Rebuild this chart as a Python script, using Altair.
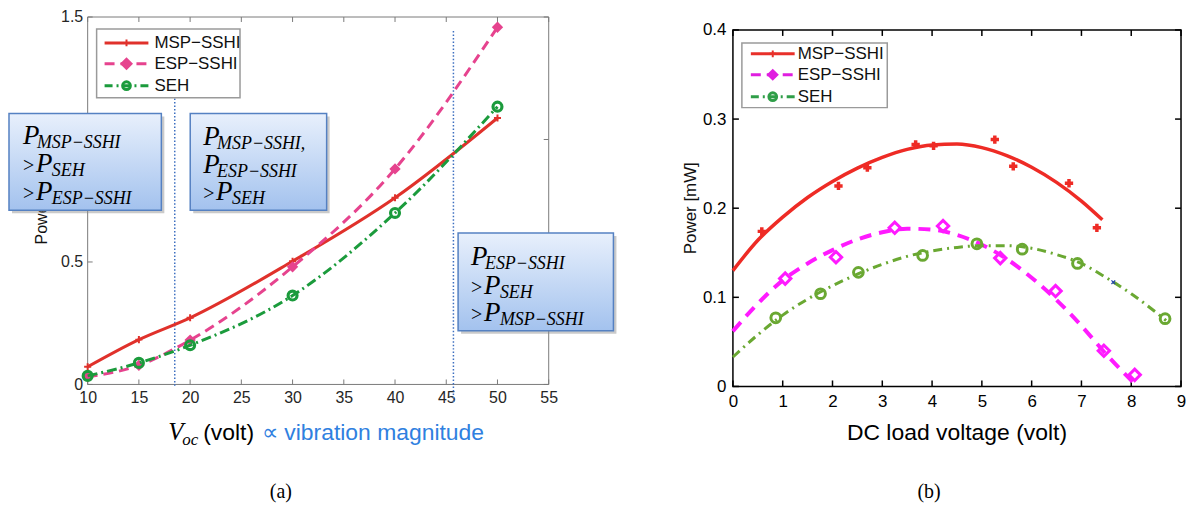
import altair as alt
import pandas as pd

# ---------------- panel (a) data ----------------
voc = [10, 15, 20, 30, 40, 50]
msp_a = [0.072, 0.183, 0.272, 0.503, 0.762, 1.088]
esp_a = [0.031, 0.078, 0.181, 0.480, 0.880, 1.458]
seh_a = [0.035, 0.088, 0.160, 0.363, 0.700, 1.134]
region_x = [18.5, 45.7]
region_top = [1.167, 1.443]
region_bottom = [-0.012, -0.073]
xticks_a = [10, 15, 20, 25, 30, 35, 40, 45, 50, 55]
yticks_a = [0, 0.5, 1.0, 1.5]
ylabels_a = [0, 0.5, 1.5]   # the "1" label is hidden behind the first box in the original

# ---------------- panel (b) data ----------------
msp_bx = [0.58, 2.12, 2.70, 3.67, 4.03, 5.26, 5.63, 6.75, 7.31]
msp_by = [0.174, 0.225, 0.2455, 0.2716, 0.270, 0.277, 0.247, 0.228, 0.178]
esp_bx = [1.05, 2.07, 3.25, 4.22, 5.37, 6.48, 7.45, 8.07]
esp_by = [0.121, 0.145, 0.178, 0.180, 0.144, 0.107, 0.040, 0.013]
seh_bx = [0.86, 1.76, 2.52, 3.81, 4.90, 5.81, 6.92, 8.68]
seh_by = [0.077, 0.104, 0.128, 0.147, 0.160, 0.154, 0.138, 0.076]
fit_msp_x = [0, 0.5, 1, 1.5, 2, 2.5, 3, 3.5, 4, 4.5, 5, 5.5, 6, 6.5, 7, 7.42]
fit_msp_y = [0.130, 0.164, 0.190, 0.212, 0.230, 0.245, 0.257, 0.266, 0.271, 0.272,
             0.268, 0.259, 0.246, 0.229, 0.208, 0.187]
fit_esp_x = [0, 0.5, 1, 1.5, 2, 2.5, 3, 3.5, 4, 4.5, 5, 5.5, 6, 6.5, 7, 7.5, 8, 8.13]
fit_esp_y = [0.062, 0.093, 0.119, 0.138, 0.153, 0.165, 0.173, 0.177, 0.176, 0.170,
             0.159, 0.143, 0.122, 0.097, 0.068, 0.036, 0.007, 0.0]
fit_seh_x = [0, 0.5, 1, 1.5, 2, 2.5, 3, 3.5, 4, 4.5, 5, 5.5, 6, 6.5, 7, 7.5, 8, 8.5, 8.7]
fit_seh_y = [0.033, 0.058, 0.080, 0.098, 0.113, 0.126, 0.137, 0.146, 0.152, 0.156,
             0.158, 0.158, 0.155, 0.148, 0.138, 0.122, 0.104, 0.083, 0.074]
extra_bx = [7.64]
extra_by = [0.117]
xticks_b = [0, 1, 2, 3, 4, 5, 6, 7, 8, 9]
yticks_b = [0, 0.1, 0.2, 0.3, 0.4]

series_names = ["MSP\u2212SSHI", "ESP\u2212SSHI", "SEH"]

# ---------------- styling / geometry ----------------
SANS = "Liberation Sans"
SERIF = "Liberation Serif"
RED_A, PINK_A, GREEN_A = "#e0312b", "#e6438e", "#1b9b3c"
RED_B, MAG_B, GREEN_B = "#ee2b25", "#ff1aff", "#6aa832"
PLUS = "M-1,0L1,0M0,-1L0,1"
XMARK = "M-1,-1L1,1M-1,1L1,-1"

A_W, A_H = 463, 369
B_W, B_H, B_TOP = 450, 371, 13


def ax(px):
    return 10 + (px - 87) * 45 / A_W


def ay(py):
    return (16 + A_H - py) * 1.5 / A_H


def bx(px):
    return (px - 735) * 9 / B_W


def by(py):
    return (16 + B_H - py) * 0.4 / (B_H - B_TOP)


def mk_axis(vals, size, color, pad):
    return alt.Axis(values=vals, format="~g", labelFont=SANS, labelFontSize=size, labelColor=color,
                    ticks=False, tickSize=0, domain=False, grid=False, labelPadding=pad,
                    labelFlush=False, labelOverlap=False, title=None)


PA = dict(xs=alt.Scale(domain=[10, 55], nice=False, zero=False),
          ys=alt.Scale(domain=[0, 1.5], nice=False, zero=False),
          axx=mk_axis(xticks_a, 16, "#262626", 5), axy=mk_axis(ylabels_a, 16, "#262626", 5))
PB = dict(xs=alt.Scale(domain=[0, 9], nice=False, zero=False),
          ys=alt.Scale(domain=[0, 0.4], nice=False, zero=False, range=[B_H, B_TOP]),
          axx=mk_axis(xticks_b, 17, "#000000", 7), axy=mk_axis(yticks_b, 17, "#000000", 7))


def X(P, f="x"):
    return alt.X(f"{f}:Q", scale=P["xs"], axis=P["axx"])


def Y(P, f="y"):
    return alt.Y(f"{f}:Q", scale=P["ys"], axis=P["axy"])


def XY(ch, P, **kw):
    return ch.encode(x=X(P), y=Y(P), **kw)


def texts(rows, P, font, size, color, style="normal", align="left", baseline="alphabetic", angle=0):
    d = pd.DataFrame(rows, columns=["x", "y", "t"])
    m = alt.Chart(d).mark_text(font=font, fontSize=size, color=color, fontStyle=style,
                               align=align, baseline=baseline, angle=angle)
    return XY(m, P, text="t:N")


def rects(rows, P, **mk):
    d = pd.DataFrame(rows, columns=["x", "x2", "y", "y2"])
    return XY(alt.Chart(d).mark_rect(**mk), P, x2="x2:Q", y2="y2:Q")


def points(xv, yv, P, **mk):
    return XY(alt.Chart(pd.DataFrame({"x": xv, "y": yv})).mark_point(**mk), P)


def line(xv, yv, P, **mk):
    return XY(alt.Chart(pd.DataFrame({"x": xv, "y": yv})).mark_line(**mk), P)


def hseg(x1, x2, yv, P, **mk):
    d = pd.DataFrame({"x": [x1], "x2": [x2], "y": [yv]})
    return alt.Chart(d).mark_rule(**mk).encode(x=X(P), x2="x2:Q", y=Y(P))


def xticks(vals, P, ya, yb, **mk):
    d = pd.DataFrame({"x": vals})
    return alt.Chart(d).mark_rule(**mk).encode(x=X(P), y=alt.value(ya), y2=alt.value(yb))


def yticks(vals, P, xa, xb, **mk):
    d = pd.DataFrame({"y": vals})
    return alt.Chart(d).mark_rule(**mk).encode(y=Y(P), x=alt.value(xa), x2=alt.value(xb))


BOX_FILL = {"gradient": "linear", "x1": 0, "y1": 0, "x2": 0, "y2": 1,
            "stops": [{"offset": 0, "color": "#e8f0fc"}, {"offset": 1, "color": "#a3c2ee"}]}

# ======================= panel (a) =======================
frameA = rects([[10, 55, 0, 1.5]], PA, fill="#ffffff", fillOpacity=0, stroke="#7a7a7a", strokeWidth=1)

regions = alt.Chart(pd.DataFrame({"x": region_x, "y": region_top, "y2": region_bottom})).mark_rule(
    color="#3d6fc0", strokeWidth=1.5, strokeDash=[1.5, 2]).encode(x=X(PA), y=Y(PA), y2="y2:Q")

linesA = [
    line(voc, msp_a, PA, color=RED_A, strokeWidth=3, interpolate="monotone"),
    points(voc, msp_a, PA, shape=PLUS, size=50, color=RED_A, strokeWidth=2, filled=False, opacity=1),
    line(voc, esp_a, PA, color=PINK_A, strokeWidth=3, strokeDash=[10, 6], interpolate="monotone"),
    points(voc, esp_a, PA, shape="diamond", size=130, color=PINK_A, filled=True, opacity=1),
    line(voc, seh_a, PA, color=GREEN_A, strokeWidth=3, strokeDash=[10, 4, 2, 4], interpolate="monotone"),
    points(voc, seh_a, PA, shape="circle", size=80, color=GREEN_A, strokeWidth=3.2, filled=False, opacity=1),
]

legA_rows_y = [ay(42), ay(63), ay(85)]
legA = [rects([[ax(96), ax(240), ay(28), ay(97)]], PA, fill="#ffffff", stroke="#9a9a9a", strokeWidth=1.5)]
for yv, col, dash in zip(legA_rows_y, [RED_A, PINK_A, GREEN_A], [[1, 0], [10, 6], [8, 4, 2, 4]]):
    legA.append(hseg(ax(104), ax(148), yv, PA, color=col, strokeWidth=3, strokeDash=dash))
legA += [
    points([ax(126)], [legA_rows_y[0]], PA, shape=PLUS, size=45, color=RED_A, strokeWidth=2, filled=False, opacity=1),
    points([ax(126)], [legA_rows_y[1]], PA, shape="diamond", size=170, color=PINK_A, filled=True, opacity=1),
    points([ax(126)], [legA_rows_y[2]], PA, shape="circle", size=60, color=GREEN_A, strokeWidth=3, filled=False, opacity=1),
    texts([[ax(154), yv, s] for yv, s in zip(legA_rows_y, series_names)], PA, SANS, 17, "#111111",
          baseline="middle"),
]

ytitleA = texts([[ax(41), ay(200), "Power (mW)"]], PA, SANS, 16, "#111111", align="center",
                baseline="middle", angle=270)

box_px = [[8, 161, 113, 210], [190, 327, 113, 210], [459, 615, 233, 331]]
shadows = rects([[ax(l + 3), ax(r + 3), ay(t + 3), ay(b + 3)] for l, r, t, b in box_px], PA,
                fill="#8a8a8a", opacity=0.45)
boxes = rects([[ax(l), ax(r), ay(t), ay(b)] for l, r, t, b in box_px], PA,
              fill=BOX_FILL, stroke="#5581c2", strokeWidth=1.5)
mainP = [(22, 144), (35, 172), (35, 200), (203, 145), (203, 173), (216, 200),
         (472, 265), (485, 294), (485, 321)]
gts = [(22, 172), (22, 200), (203, 200), (472, 294), (472, 321)]
subs = [("MSP\u2212SSHI", 36, 148), ("SEH", 51, 176), ("ESP\u2212SSHI", 51, 204),
        ("MSP\u2212SSHI,", 217, 149), ("ESP\u2212SSHI", 217, 177), ("SEH", 232, 204),
        ("ESP\u2212SSHI", 486, 269), ("SEH", 501, 298), ("MSP\u2212SSHI", 501, 325)]
boxtext = [
    texts([[ax(px), ay(py), "P"] for px, py in mainP], PA, SERIF, 27, "#000000", style="italic"),
    texts([[ax(px), ay(py), ">"] for px, py in gts], PA, SERIF, 20, "#000000"),
    texts([[ax(px), ay(py), s] for s, px, py in subs], PA, SERIF, 18, "#000000", style="italic"),
]

capA = [
    texts([[ax(168), ay(441), "V"]], PA, SERIF, 25, "#000000", style="italic"),
    texts([[ax(182), ay(446), "oc"]], PA, SERIF, 17, "#000000", style="italic"),
    texts([[ax(203), ay(441), "(volt)"]], PA, SANS, 23, "#000000"),
    texts([[ax(262), ay(441), "\u221d vibration magnitude"]], PA, SANS, 23, "#2f80e0"),
    texts([[ax(281), ay(493), "(a)"]], PA, SERIF, 20, "#000000", align="center", baseline="middle"),
]

tcA = dict(color="#7a7a7a", strokeWidth=1)
ticksA = [
    xticks(xticks_a, PA, A_H, A_H - 5, **tcA),
    xticks(xticks_a, PA, 0, 5, **tcA),
    yticks(yticks_a, PA, 0, 5, **tcA),
    yticks(yticks_a, PA, A_W, A_W - 5, **tcA),
]

left = alt.layer(frameA, ytitleA, regions, *ticksA, *linesA, *legA, shadows, boxes, *boxtext,
                 *capA).properties(width=A_W, height=A_H)

# ======================= panel (b) =======================
frameB = rects([[0, 9, 0, 0.4]], PB, fill="#ffffff", fillOpacity=0, stroke="#000000", strokeWidth=1.5)

linesB = [
    line(fit_msp_x, fit_msp_y, PB, color=RED_B, strokeWidth=3.5, interpolate="monotone"),
    line(fit_esp_x, fit_esp_y, PB, color=MAG_B, strokeWidth=4, strokeDash=[12, 8], interpolate="monotone"),
    line(fit_seh_x, fit_seh_y, PB, color=GREEN_B, strokeWidth=3, strokeDash=[9, 5, 2, 5], interpolate="monotone"),
    points(msp_bx, msp_by, PB, shape=PLUS, size=70, color=RED_B, strokeWidth=3.5, filled=False, opacity=1),
    points(esp_bx, esp_by, PB, shape="diamond", size=130, color=MAG_B, strokeWidth=3, filled=False, opacity=1),
    points(seh_bx, seh_by, PB, shape="circle", size=95, color=GREEN_B, strokeWidth=3, filled=False, opacity=1),
    points(extra_bx, extra_by, PB, shape=XMARK, size=14, color="#2244aa", strokeWidth=1.2, filled=False, opacity=1),
]

legB_rows_y = [by(53), by(74), by(96)]
legB_cols = ["#e8302a", "#e01ee0", "#2f9e48"]
legB = [rects([[bx(744), bx(890), by(42), by(107)]], PB, fill="#ffffff", stroke="#9a9a9a", strokeWidth=1.5)]
for yv, col, dash in zip(legB_rows_y, legB_cols, [[1, 0], [10, 6], [8, 4, 2, 4]]):
    legB.append(hseg(bx(753), bx(797), yv, PB, color=col, strokeWidth=3, strokeDash=dash))
legB += [
    points([bx(775)], [legB_rows_y[0]], PB, shape=PLUS, size=45, color=legB_cols[0], strokeWidth=2, filled=False, opacity=1),
    points([bx(775)], [legB_rows_y[1]], PB, shape="diamond", size=150, color=legB_cols[1], filled=True, opacity=1),
    points([bx(775)], [legB_rows_y[2]], PB, shape="circle", size=60, color=legB_cols[2], strokeWidth=3, filled=False, opacity=1),
    texts([[bx(800), yv, s] for yv, s in zip(legB_rows_y, series_names)], PB, SANS, 17, "#111111",
          baseline="middle"),
]

capB = [
    texts([[bx(693), by(208), "Power [mW]"]], PB, SANS, 17, "#111111", align="center",
          baseline="middle", angle=270),
    texts([[bx(960), by(441), "DC load voltage (volt)"]], PB, SANS, 23, "#000000", align="center"),
    texts([[bx(932), by(493), "(b)"]], PB, SERIF, 20, "#000000", align="center", baseline="middle"),
]

tcB = dict(color="#000000", strokeWidth=1.5)
ticksB = [
    xticks(xticks_b, PB, B_H, B_H - 6, **tcB),
    xticks(xticks_b, PB, B_TOP, B_TOP + 6, **tcB),
    yticks(yticks_b, PB, 0, 6, **tcB),
    yticks(yticks_b, PB, B_W, B_W - 6, **tcB),
]

right = alt.layer(frameB, *ticksB, *linesB, *legB, *capB).properties(width=B_W, height=B_H)

chart = alt.hconcat(left, right, spacing=185, bounds="flush").properties(
    padding={"left": 0, "top": 0, "right": 0, "bottom": 0}
).configure(background="#ffffff").configure_view(strokeWidth=0)

chart.save("out.html", embed_options={"renderer": "svg", "actions": False})
